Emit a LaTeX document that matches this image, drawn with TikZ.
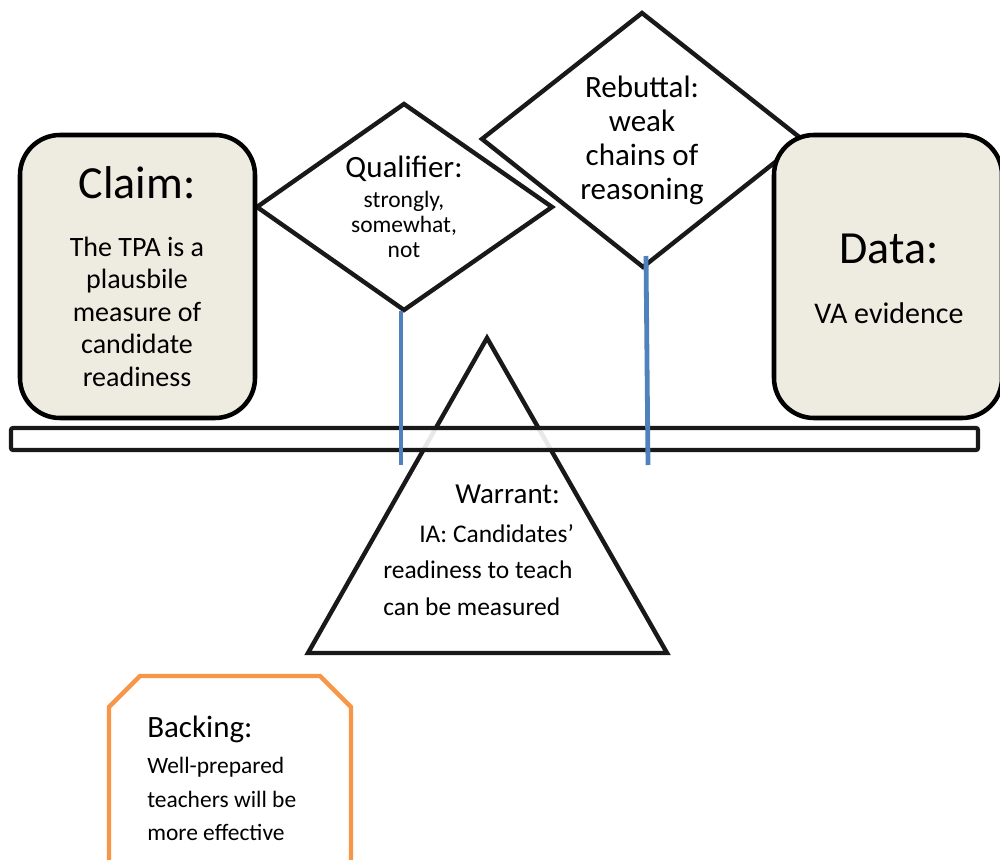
\documentclass[tikz,border=0pt]{standalone}
\usepackage{fontspec}
\setmainfont{Carlito}
\definecolor{panelbg}{HTML}{EEECE1}
\definecolor{postblue}{HTML}{4F81BD}
\definecolor{backorange}{HTML}{F79646}
\newcommand\fsz[1]{\fontsize{#1}{#1}\selectfont}
\tikzset{
  outline/.style={draw=black!90, line width=3.3pt, line join=miter},
  panel/.style={draw=black, line width=3.4pt, fill=panelbg, rounded corners=30pt},
  diamondbox/.style={outline, fill=white},
  beambox/.style={draw=black!90, line width=3.1pt, fill=white, fill opacity=0.9, rounded corners=1.5pt},
  postline/.style={draw=postblue, line width=3.6pt},
  backline/.style={draw=backorange, line width=3.3pt, line join=miter},
  lbl/.style={inner sep=0pt, anchor=base},
  lblw/.style={inner sep=0pt, anchor=base west}
}
\begin{document}
\begin{tikzpicture}[x=0.75pt,y=-0.75pt]
\useasboundingbox (0,0) rectangle (1000,860);
\clip (0,0) rectangle (1000,860);

% Rebuttal diamond
\coordinate (rT) at (642,13);
\coordinate (rL) at (482,139);
\coordinate (rB) at (643,267);
\coordinate (rR) at (803,140);
\draw[diamondbox] (rT) -- (rR) -- (rB) -- (rL) -- cycle;

% Qualifier diamond
\coordinate (qT) at (404,104);
\coordinate (qL) at (257,207);
\coordinate (qB) at (404,310);
\coordinate (qR) at (552,207);
\draw[diamondbox] (qT) -- (qR) -- (qB) -- (qL) -- cycle;

% Claim and Data panels
\draw[panel] (20,135) rectangle (255,418);
\draw[panel] (774,135) rectangle (1002,418);

% Warrant triangle (fulcrum)
\coordinate (wA) at (487,338);
\coordinate (wL) at (308,653);
\coordinate (wR) at (667,653);
\draw[outline] (wA) -- (wR) -- (wL) -- cycle;

% Beam
\draw[beambox] (11,428) rectangle (978,450);

% Blue posts
\coordinate (qPostTop) at (401,311);
\coordinate (qPostEnd) at (401,465);
\coordinate (rPostTop) at (646,256);
\coordinate (rPostEnd) at (648,465);
\draw[postline] (qPostTop) -- (qPostEnd);
\draw[postline] (rPostTop) -- (rPostEnd);

% Backing shape
\draw[backline] (109,875) -- (109,707) -- (140,676) -- (320,676) -- (351,707) -- (351,875);

% Claim text
\node[lbl] (claimT) at (137,198) {\fsz{34.5pt}Claim:};
\node[lbl] (claim1) at (137,256) {\fsz{21pt}The TPA is a};
\node[lbl] (claim2) at (137,288.5) {\fsz{21pt}plausbile};
\node[lbl] (claim3) at (137,321) {\fsz{21pt}measure of};
\node[lbl] (claim4) at (137,353.5) {\fsz{21pt}candidate};
\node[lbl] (claim5) at (137,386) {\fsz{21pt}readiness};

% Data text
\node[lbl] (dataT) at (889,263) {\fsz{34.5pt}Data:};
\node[lbl] (data1) at (889,323) {\fsz{22.5pt}VA evidence};

% Qualifier text
\node[lbl] (qualT) at (404,177) {\fsz{23.25pt}Qualifier:};
\node[lbl] (qual1) at (404,207) {\fsz{17.6pt}strongly,};
\node[lbl] (qual2) at (404,232) {\fsz{17.6pt}somewhat,};
\node[lbl] (qual3) at (404,257) {\fsz{17.6pt}not};

% Rebuttal text
\node[lbl] (rebT) at (642,97) {\fsz{23.25pt}Rebuttal:};
\node[lbl] (reb1) at (642,131) {\fsz{23.25pt}weak};
\node[lbl] (reb2) at (642,165) {\fsz{23.25pt}chains of};
\node[lbl] (reb3) at (642,199) {\fsz{23.25pt}reasoning};

% Warrant text
\node[lblw] (warT) at (455,503) {\fsz{21.75pt}Warrant:};
\node[lblw] (war1) at (419,542) {\fsz{19.1pt}IA: Candidates’};
\node[lblw] (war2) at (383,578) {\fsz{19.1pt}readiness to teach};
\node[lblw] (war3) at (383,615) {\fsz{19.1pt}can be measured};

% Backing text
\node[lblw] (backT) at (147,737) {\fsz{23.25pt}Backing:};
\node[lblw] (back1) at (147,773) {\fsz{17.6pt}Well-prepared};
\node[lblw] (back2) at (147,807) {\fsz{17.6pt}teachers will be};
\node[lblw] (back3) at (147,840) {\fsz{17.6pt}more effective};
\end{tikzpicture}
\end{document}
